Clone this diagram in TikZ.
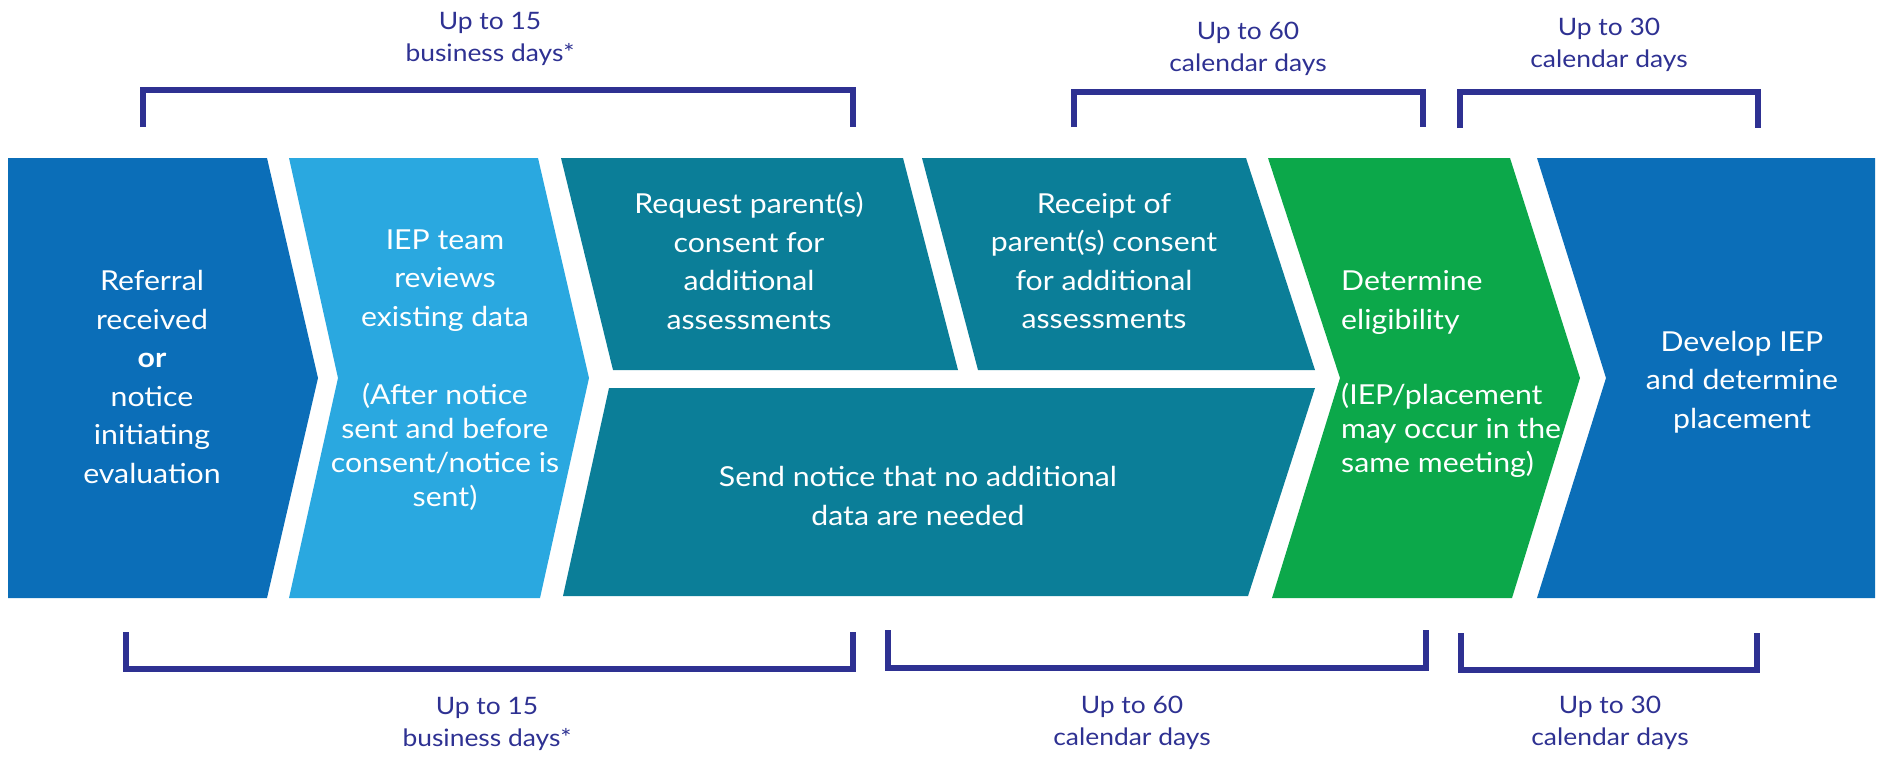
\documentclass[tikz,border=0pt]{standalone}
\usepackage{fontspec}
\setmainfont{Lato}[FakeStretch=1.1]
\definecolor{dblue}{HTML}{0B6EB8}
\definecolor{lblue}{HTML}{2AA8E0}
\definecolor{tealbox}{HTML}{0B7E98}
\definecolor{grn}{HTML}{0CA84A}
\definecolor{brk}{HTML}{2E3192}
\begin{document}
\begin{tikzpicture}[x=1pt,y=-1pt,
  boxtext/.style={text=white, align=center, font=\fontsize{27.5}{38.5}\selectfont, inner sep=0pt},
  brtext/.style={text=brk, align=center, font=\fontsize{24}{32}\selectfont, inner sep=0pt},
  bracket/.style={draw=brk, line width=6.5pt, line join=miter}]
\useasboundingbox (0,0) rectangle (1877,756);

% chevron shapes
\fill[dblue] (8,158) -- (267,158) -- (318,378) -- (267,598) -- (8,598) -- cycle;
\fill[lblue] (289,158) -- (538,158) -- (589,378) -- (540,598) -- (289,598) -- (338,378) -- cycle;
\fill[tealbox] (561,158) -- (903,158) -- (958,370) -- (613,370) -- cycle;
\fill[tealbox] (922,158) -- (1246,158) -- (1315,370) -- (978,370) -- cycle;
\fill[tealbox] (609,388) -- (1315,388) -- (1248,596) -- (563,596) -- cycle;
\fill[grn] (1268,158) -- (1510,158) -- (1580,378) -- (1512,598) -- (1272,598) -- (1340,378) -- cycle;
\fill[dblue] (1537,158) -- (1875,158) -- (1875,598) -- (1537,598) -- (1606,378) -- cycle;

% box texts
\node[boxtext] (t1) at (152,377) {Referral\\received\\\textbf{or}\\notice\\initiating\\evaluation};
\node[boxtext] (t2) at (445,370) {IEP team\\reviews\\existing data\\[40pt](After notice\\[-4.5pt]sent and before\\[-4.5pt]consent/notice is\\[-4.5pt]sent)};
\node[boxtext] (t3) at (749,261) {Request parent(s)\\consent for\\additional\\assessments};
\node[boxtext] (t4) at (1104,261) {Receipt of\\parent(s) consent\\for additional\\assessments};
\node[boxtext] (t5) at (918,496) {Send notice that no additional\\data are needed};
\node[boxtext, align=left, anchor=west] (t6) at (1341,374) {Determine\\eligibility\\[37pt](IEP/placement\\[-4.5pt]may occur in the\\[-4.5pt]same meeting)};
\node[boxtext] (t7) at (1742,382) {Develop IEP\\and determine\\placement};

% top brackets
\draw[bracket] (143,127) -- (143,90) -- (853,90) -- (853,127);
\draw[bracket] (1074,127) -- (1074,92) -- (1423,92) -- (1423,127);
\draw[bracket] (1460,128) -- (1460,92) -- (1758,92) -- (1758,128);
\node[brtext] (u1) at (490,39) {Up to 15\\business days*};
\node[brtext] (u2) at (1248,49) {Up to 60\\calendar days};
\node[brtext] (u3) at (1609,45) {Up to 30\\calendar days};

% bottom brackets
\draw[bracket] (126,632) -- (126,669) -- (853,669) -- (853,632);
\draw[bracket] (888,630) -- (888,668) -- (1426,668) -- (1426,630);
\draw[bracket] (1461,633) -- (1461,670) -- (1757,670) -- (1757,633);
\node[brtext] (b1) at (487,724) {Up to 15\\business days*};
\node[brtext] (b2) at (1132,723) {Up to 60\\calendar days};
\node[brtext] (b3) at (1610,723) {Up to 30\\calendar days};
\end{tikzpicture}
\end{document}
